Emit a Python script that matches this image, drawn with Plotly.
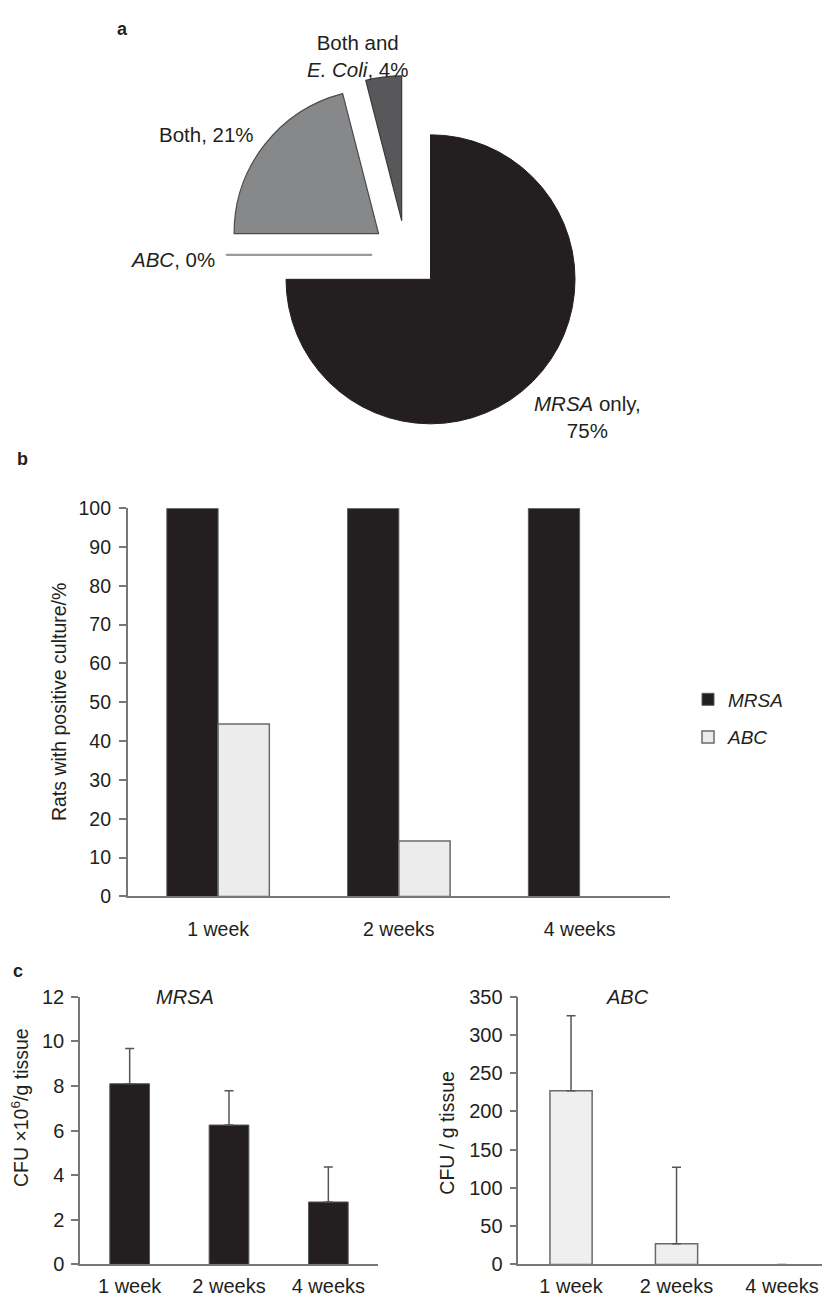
import plotly.graph_objects as go

W, H = 822, 1300

# ---------- data ----------
pie_labels = ["MRSA only", "ABC", "Both", "Both and E. Coli"]
pie_values = [75, 0, 21, 4]
pie_colors = ["#231f20", "#8e8e8e", "#87888a", "#58585a"]
pie_line_colors = ["#231f20", "#9a9a9a", "#4a4a4a", "#3a3a3a"]
pie_line_widths = [1, 2.2, 1.2, 1.2]

weeks = ["1 week", "2 weeks", "4 weeks"]
b_mrsa = [100, 100, 100]
b_abc = [44.4, 14.3, 0]

c_mrsa = [8.1, 6.25, 2.8]
c_mrsa_err = [1.58, 1.53, 1.57]
c_abc = [227, 27, 0]
c_abc_err = [98, 100, 0]

FONT = "Liberation Sans, Arial, sans-serif"
BLACK = "#231f20"
AXC = "#777777"


def px(x):
    return x / W


def py(y):
    return 1 - y / H


fig = go.Figure()

# ---------- panel a : pie ----------
cx, cy, r, pull = 406, 248, 147, 0.24
half = r * (1 + pull)
fig.add_trace(go.Pie(
    labels=pie_labels, values=pie_values, sort=False, direction="clockwise",
    rotation=0, pull=[pull] * 4, textinfo="none", hoverinfo="label+value",
    marker=dict(colors=pie_colors, line=dict(color=pie_line_colors, width=pie_line_widths)),
    domain=dict(x=[px(cx - half), px(cx + half)], y=[py(cy + half), py(cy - half)]),
    showlegend=False,
))

# ---------- panel b : grouped bars ----------
fig.add_trace(go.Bar(
    x=weeks, y=b_mrsa, name="<i>MRSA</i>", xaxis="x", yaxis="y",
    marker=dict(color=BLACK, line=dict(color="#5a5a5a", width=1)),
    legendgroup="m",
))
fig.add_trace(go.Bar(
    x=weeks, y=b_abc, name="<i>ABC</i>", xaxis="x", yaxis="y",
    marker=dict(color="#ececec",
                line=dict(color="#6a6a6a", width=[1.5 if v > 0 else 0 for v in b_abc])),
    legendgroup="a",
))

# ---------- panel c : MRSA CFU ----------
fig.add_trace(go.Bar(
    x=weeks, y=c_mrsa, xaxis="x2", yaxis="y2", width=0.4, showlegend=False,
    marker=dict(color=BLACK, line=dict(color="#5a5a5a", width=1)),
    error_y=dict(type="data", symmetric=False, array=c_mrsa_err,
                 arrayminus=[0, 0, 0], color="#555555", thickness=1.5, width=4.5),
))
# ---------- panel c : ABC CFU ----------
fig.add_trace(go.Bar(
    x=weeks, y=c_abc, xaxis="x3", yaxis="y3", width=0.4, showlegend=False,
    marker=dict(color="#efefef",
                line=dict(color="#6a6a6a", width=[1.5 if v > 0 else 0 for v in c_abc])),
    error_y=dict(type="data", symmetric=False, array=c_abc_err,
                 arrayminus=[0, 0, 0], color="#555555", thickness=1.5, width=4.5),
))

tickfont_b = dict(family=FONT, size=19.5, color=BLACK)
tickfont_c = dict(family=FONT, size=20, color=BLACK)

yaxis_common = dict(showgrid=False, zeroline=False, showline=True, linecolor=AXC,
                    linewidth=1.5, ticks="outside", ticklen=7, tickcolor=AXC,
                    tickwidth=1.5, fixedrange=True)
xaxis_common = dict(showgrid=False, zeroline=False, showline=True, linecolor=AXC,
                    linewidth=1.5, ticks="", type="category", fixedrange=True)

fig.update_layout(
    width=W, height=H, margin=dict(l=0, r=0, t=0, b=0),
    paper_bgcolor="white", plot_bgcolor="white",
    barmode="group", bargap=0.433, bargroupgap=0,
    font=dict(family=FONT, color=BLACK),
    xaxis=dict(**xaxis_common, domain=[px(127.7), px(670)], range=[-0.5, 2.5],
               anchor="y", tickfont=tickfont_b, ticklabelstandoff=14),
    yaxis=dict(**yaxis_common, domain=[py(900.7), py(505.7)], range=[0, 100],
               dtick=10, anchor="x", tickfont=tickfont_b, ticklabelstandoff=4),
    xaxis2=dict(**xaxis_common, domain=[px(80), px(378)], range=[-0.5, 2.5],
                anchor="y2", tickfont=tickfont_c, ticklabelstandoff=3),
    yaxis2=dict(**yaxis_common, domain=[py(1275), py(1002.7)], range=[0, 12],
                dtick=2, anchor="x2", tickfont=tickfont_c, ticklabelstandoff=3),
    xaxis3=dict(**xaxis_common, domain=[px(518.3), 1.0], range=[-0.5, 2.379],
                anchor="y3", tickfont=tickfont_c, ticklabelstandoff=3),
    yaxis3=dict(**yaxis_common, domain=[py(1275), py(1002.7)], range=[0, 350],
                dtick=50, anchor="x3", tickfont=tickfont_c, ticklabelstandoff=3),
    legend=dict(x=px(688), y=py(681), xanchor="left", yanchor="top",
                traceorder="grouped", tracegroupgap=10,
                font=dict(family=FONT, size=19, color=BLACK),
                bgcolor="rgba(0,0,0,0)"),
)


def ann(text, x, y, size=20, xanchor="center", yanchor="middle", angle=0, bold=False):
    if bold:
        text = "<b>" + text + "</b>"
    fig.add_annotation(text=text, x=px(x), y=py(y), xref="paper", yref="paper",
                       xanchor=xanchor, yanchor=yanchor, showarrow=False,
                       textangle=angle, font=dict(family=FONT, size=size, color=BLACK))


# panel letters
ann("a", 122, 18, size=18, bold=True)
ann("b", 22, 456, size=18, bold=True)
ann("c", 18, 977, size=18, bold=True)

# pie labels
ann("Both and<br><i>E. Coli</i>, 4%", 357, 45.5, size=20.5)
ann("Both, 21%", 206, 126, size=20.5)
ann("<i>ABC</i>, 0%", 217, 253, size=20.5, xanchor="right")
ann("<i>MRSA</i> only,<br>75%", 587, 413, size=20.5)

# axis titles
ann("Rats with positive culture/%", 59, 703, size=19.5, angle=-90)
ann("CFU ×10<sup>6</sup>/g tissue", 20, 1116, size=19.5, angle=-90)
ann("CFU / g tissue", 447, 1141, size=19.5, angle=-90)

# panel c subtitles
ann("<i>MRSA</i>", 185, 1003, size=20)
ann("<i>ABC</i>", 627, 1003, size=20)

fig.write_html(
    "out.html",
    config={"displayModeBar": False},
    post_script="document.body.style.margin='0px';document.body.style.overflow='hidden';",
)
